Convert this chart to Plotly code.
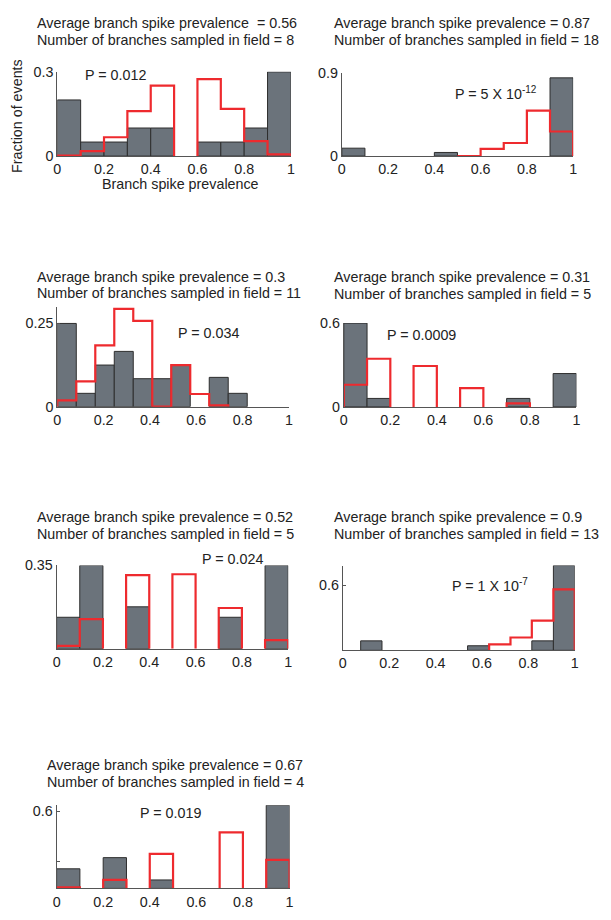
import plotly.graph_objects as go

W, H = 611, 920

# ---------------- data ----------------
edges_std = [0.0, 0.1, 0.2, 0.3, 0.4, 0.5, 0.6, 0.7, 0.8, 0.9, 1.0]
edges_p3 = [0.0, 0.082, 0.164, 0.246, 0.328, 0.41, 0.492, 0.574, 0.656, 0.738, 0.82]
edges_p6 = [0.077, 0.169, 0.262, 0.354, 0.446, 0.538, 0.631, 0.723, 0.815, 0.908, 1.0]

gray_p1 = [0.2, 0.05, 0.05, 0.1, 0.1, None, 0.05, 0.05, 0.1, 0.3]
red_p1 = [0.002, 0.0175, 0.067, 0.16, 0.251, None, 0.274, 0.168, 0.053, 0.006]

gray_p2 = [0.085, None, None, None, 0.039, None, None, None, None, 0.843]
red_p2 = [None, None, None, None, None, 0.0, 0.078, 0.141, 0.49, 0.265]

gray_p3 = [0.25, 0.04, 0.125, 0.166, 0.084, 0.084, 0.125, None, 0.088, 0.04]
red_p3 = [0.0187, 0.076, 0.184, 0.294, 0.258, 0.0, 0.125, 0.038, 0.004, None]

gray_p4 = [0.6, 0.061, None, None, None, None, None, 0.061, None, 0.239]
red_p4 = [0.159, 0.345, None, 0.293, None, 0.134, None, 0.026, None, None]

gray_p5 = [0.132, 0.35, None, 0.176, None, None, None, 0.132, None, 0.35]
red_p5 = [0.012, 0.124, None, 0.309, None, 0.313, None, 0.171, None, 0.036]

gray_p6 = [0.087, None, None, None, None, 0.042, None, None, 0.087, 0.78]
red_p6 = [None, None, None, None, None, None, 0.054, 0.118, 0.274, 0.561]

gray_p7 = [0.153, None, 0.24, None, 0.066, None, None, None, None, 0.649]
red_p7 = [0.008, None, 0.066, None, 0.27, None, None, 0.437, None, 0.222]

avg_prev = ["0.56", "0.87", "0.3", "0.31", "0.52", "0.9", "0.67"]
n_branches = ["8", "18", "11", "5", "5", "13", "4"]
p_values = ["P = 0.012", "P = 5 X 10<sup>-12</sup>", "P = 0.034", "P = 0.0009",
            "P = 0.024", "P = 1 X 10<sup>-7</sup>", "P = 0.019"]
y_max = [0.3, 0.9, 0.3, 0.6, 0.35, 0.78, 0.649]
y_ticks = [[0, 0.3], [0, 0.9], [0, 0.25], [0, 0.6], [0.35], [0.6], [0.6]]
y_ticktext = [["0", "0.3"], ["0", "0.9"], ["0", "0.25"], ["0", "0.6"], ["0.35"], ["0.6"], ["0.6"]]
y_minor = [[], [], [], [], [], [], [0.21]]
x_ticks = [0, 0.2, 0.4, 0.6, 0.8, 1]
x_ticktext = ["0", "0.2", "0.4", "0.6", "0.8", "1"]

# ---------------- layout geometry (pixels) ----------------
# (x_left, x_right, y_top, y_bottom)
boxes = [
    (54.0, 290.7, 65.0, 150.7),
    (342.3, 576.7, 65.7, 150.7),
    (54.0, 288.7, 304.1, 405.7),
    (344.3, 580.0, 320.7, 406.0),
    (53.3, 288.0, 567.3, 652.0),
    (343.3, 578.3, 567.4, 653.7),
    (53.3, 289.3, 811.3, 896.0),
]
title_pos = [(31.7, 15.0), (332.3, 15.0), (31.7, 273.3), (332.3, 274.0),
             (31.7, 518.3), (332.3, 518.0), (41.7, 770.7)]
p_pos = [(80, 68), (455, 86), (174, 331), (386, 333), (199, 561), (452, 587), (136, 819)]

edges_all = [edges_std, edges_std, edges_p3, edges_std, edges_std, edges_p6, edges_std]
gray_all = [gray_p1, gray_p2, gray_p3, gray_p4, gray_p5, gray_p6, gray_p7]
red_all = [red_p1, red_p2, red_p3, red_p4, red_p5, red_p6, red_p7]

GRAY = "#6b737b"
EDGE = "#2e2e2e"
RED = "#ee2a2e"
AX = "#555555"
TXT = "#222222"
FONT = "Liberation Sans, Arial, sans-serif"
FS = 14.3


def stairs(edges, vals):
    xs, ys = [], []
    i = 0
    n = len(vals)
    while i < n:
        if vals[i] is None:
            i += 1
            continue
        xs += [edges[i], edges[i]]
        ys += [0, vals[i]]
        j = i
        while j < n and vals[j] is not None:
            xs += [edges[j], edges[j + 1]]
            ys += [vals[j], vals[j]]
            j += 1
        xs += [edges[j], None]
        ys += [0, None]
        i = j
    return xs, ys


fig = go.Figure()
annotations = []

for k in range(7):
    sfx = "" if k == 0 else str(k + 1)
    edges = edges_all[k]
    centers = [(edges[i] + edges[i + 1]) / 2 for i in range(len(edges) - 1)]
    widths = [edges[i + 1] - edges[i] for i in range(len(edges) - 1)]
    fig.add_trace(go.Bar(
        x=centers, y=gray_all[k], width=widths,
        marker=dict(color=GRAY, line=dict(color=EDGE, width=1)),
        xaxis="x" + sfx, yaxis="y" + sfx, showlegend=False, hoverinfo="skip"))
    xs, ys = stairs(edges, red_all[k])
    fig.add_trace(go.Scatter(
        x=xs, y=ys, mode="lines", line=dict(color=RED, width=2.2),
        xaxis="x" + sfx, yaxis="y" + sfx, showlegend=False, hoverinfo="skip",
        cliponaxis=False))

    x0, x1, yt, yb = boxes[k]
    fig.layout["xaxis" + sfx] = dict(
        domain=[x0 / W, x1 / W], range=[0, 1], anchor="y" + sfx,
        showline=True, linecolor=AX, linewidth=1, showgrid=False, zeroline=False,
        tickvals=x_ticks, ticktext=x_ticktext, ticks="",
        tickfont=dict(family=FONT, size=FS, color=TXT), fixedrange=True)
    yax = dict(
        domain=[1 - yb / H, 1 - yt / H], range=[0, y_max[k]], anchor="x" + sfx,
        showline=True, linecolor=AX, linewidth=1, showgrid=False, zeroline=False,
        tickvals=y_ticks[k], ticktext=y_ticktext[k], ticks="inside", ticklen=3,
        tickcolor=AX, tickfont=dict(family=FONT, size=FS, color=TXT), fixedrange=True)
    if y_minor[k]:
        yax["minor"] = dict(tickvals=y_minor[k], ticks="inside", ticklen=3, tickcolor=AX, showgrid=False)
    fig.layout["yaxis" + sfx] = yax

    tx, ty = title_pos[k]
    sp = "\u00a0 " if k == 0 else " "
    annotations.append(dict(
        x=tx / W, y=1 - ty / H, xref="paper", yref="paper", xanchor="left", yanchor="middle",
        text="Average branch spike prevalence" + sp + "= " + avg_prev[k],
        showarrow=False, font=dict(family=FONT, size=FS, color=TXT)))
    annotations.append(dict(
        x=tx / W, y=1 - (ty + 17.2) / H, xref="paper", yref="paper", xanchor="left", yanchor="middle",
        text="Number of branches sampled in field = " + n_branches[k],
        showarrow=False, font=dict(family=FONT, size=FS, color=TXT)))
    px, py = p_pos[k]
    annotations.append(dict(
        x=px / W, y=1 - py / H, xref="paper", yref="paper", xanchor="left", yanchor="middle",
        text=p_values[k], showarrow=False, font=dict(family=FONT, size=FS, color=TXT)))

annotations.append(dict(
    x=13 / W, y=1 - 110 / H, xref="paper", yref="paper", xanchor="center", yanchor="middle",
    text="Fraction of events", textangle=-90, showarrow=False,
    font=dict(family=FONT, size=FS, color=TXT)))
annotations.append(dict(
    x=179 / W, y=1 - 179 / H, xref="paper", yref="paper", xanchor="center", yanchor="middle",
    text="Branch spike prevalence", showarrow=False,
    font=dict(family=FONT, size=FS, color=TXT)))

fig.update_layout(
    width=W, height=H, margin=dict(l=0, r=0, t=0, b=0),
    paper_bgcolor="white", plot_bgcolor="white",
    barmode="overlay", annotations=annotations, showlegend=False)

fig.write_html("out.html", config={"displayModeBar": False},
               post_script="document.body.style.margin='0px';")
